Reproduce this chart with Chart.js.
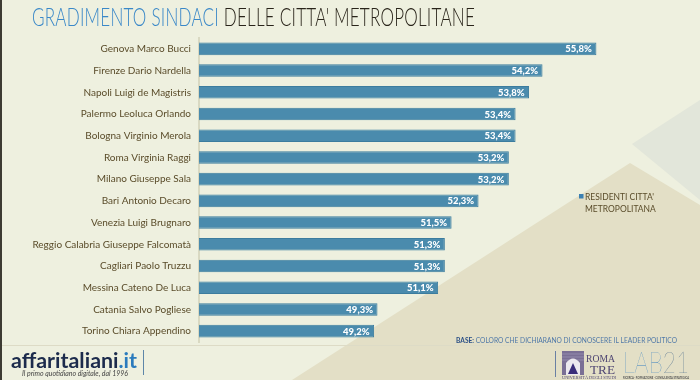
<!DOCTYPE html>
<html><head><meta charset="utf-8">
<script src="https://cdn.jsdelivr.net/npm/chart.js"></script>
<style>
html,body{margin:0;padding:0;}
body{width:700px;height:380px;overflow:hidden;position:relative;background:#eef0df;font-family:Lato,"Noto Sans",sans-serif;}
#bg{position:absolute;left:0;top:0;}
#c{position:absolute;left:0;top:0;}
.t{position:absolute;left:0;top:0;white-space:nowrap;transform-origin:0 0;line-height:1;}
</style></head>
<body>
<svg id="bg" width="700" height="380">
  <polygon points="632,144 700,100 700,200" fill="#e2e6da"/>
  <polygon points="630,163 700,205 700,380 292,380" fill="#e3dfc6"/>
  <line x1="2" y1="345.5" x2="700" y2="345.5" stroke="#dddbc6" stroke-width="1"/>
  <rect x="0" y="0" width="2" height="380" fill="#3d3b33"/>
  <line x1="143.5" y1="350" x2="143.5" y2="375" stroke="#5d86a8" stroke-width="1"/>
  <line x1="555.5" y1="351" x2="555.5" y2="377" stroke="#6a80a3" stroke-width="1"/>
  <g>
    <rect x="562" y="351" width="22" height="24" fill="#7a6f95"/>
    <line x1="562" y1="354" x2="584" y2="354" stroke="#9b92b2" stroke-width="0.8"/>
    <line x1="562" y1="357" x2="584" y2="357" stroke="#9b92b2" stroke-width="0.8"/>
    <line x1="562" y1="360" x2="584" y2="360" stroke="#9b92b2" stroke-width="0.8"/>
    <path d="M566,375 L566,363 Q573,354 580,363 L580,375 Z" fill="#ece9ef"/>
    <polygon points="573,363 578,374 568,374" fill="#3a2d7a"/>
  </g>
</svg>
<canvas id="c" width="700" height="380"></canvas>

<div class="t" id="title" style="font-size:24.5px;font-weight:300;letter-spacing:0.3px"><span style="color:#3a88c8">GRADIMENTO SINDACI</span><span style="color:#29241a"> DELLE CITTA' METROPOLITANE</span></div>
<div class="t" id="aff" style="font-size:21px;font-weight:700"><span style="color:#1c2b4c">affaritaliani</span><span style="color:#2b7bbd">.it</span></div>
<div class="t" id="tag" style="font-size:8px;font-style:italic;color:#444">Il primo quotidiano digitale, dal 1996</div>
<div class="t" id="base" style="font-size:7px;color:#4f78a8"><span style="font-weight:700;color:#2a4f86">BASE:</span> COLORO CHE DICHIARANO DI CONOSCERE IL LEADER POLITICO</div>
<div class="t" id="roma" style="font-size:11px;font-family:'Liberation Serif',serif;color:#4f4673">ROMA</div>
<div class="t" id="tre" style="font-size:12px;font-family:'Liberation Serif',serif;color:#4f4673">TRE</div>
<div class="t" id="uni" style="font-size:4px;font-family:'Liberation Serif',serif;color:#4f4673">UNIVERSITÀ DEGLI STUDI</div>
<div class="t" id="lab" style="font-size:29px;font-weight:200;color:#3c82c0">LAB<span style="color:#3b5f85">21</span></div>
<div class="t" id="labsub" style="font-size:3px;font-weight:700;color:#555">RICERCA · FORMAZIONE · CONSULENZA STRATEGICA</div>

<script>
const categories = [
  "Genova Marco Bucci",
  "Firenze Dario Nardella",
  "Napoli Luigi de Magistris",
  "Palermo Leoluca Orlando",
  "Bologna Virginio Merola",
  "Roma Virginia Raggi",
  "Milano Giuseppe Sala",
  "Bari Antonio Decaro",
  "Venezia Luigi Brugnaro",
  "Reggio Calabria Giuseppe Falcomatà",
  "Cagliari Paolo Truzzu",
  "Messina Cateno De Luca",
  "Catania Salvo Pogliese",
  "Torino Chiara Appendino"
];
const values = [55.8, 54.2, 53.8, 53.4, 53.4, 53.2, 53.2, 52.3, 51.5, 51.3, 51.3, 51.1, 49.3, 49.2];
const seriesLabel = ["RESIDENTI CITTA'", "METROPOLITANA"];
const axisMin = 44, axisMax = 58;

const valueLabels = {
  id: 'valueLabels',
  afterDatasetsDraw(chart) {
    const ctx = chart.ctx;
    const meta = chart.getDatasetMeta(0);
    ctx.save();
    ctx.font = '900 9.5px Lato, sans-serif';
    ctx.fillStyle = '#ffffff';
    ctx.textAlign = 'right';
    ctx.textBaseline = 'middle';
    meta.data.forEach((bar, i) => {
      const v = chart.data.datasets[0].data[i];
      ctx.fillText(v.toFixed(1).replace('.', ',') + '%', bar.x - 4.5, bar.y + 0.5);
    });
    ctx.restore();
  }
};

const sideLegend = {
  id: 'sideLegend',
  afterDraw(chart) {
    const ctx = chart.ctx;
    const ds = chart.data.datasets[0];
    const lines = Array.isArray(ds.label) ? ds.label : [ds.label];
    ctx.save();
    ctx.fillStyle = '#3b80b2';
    ctx.fillRect(579, 194, 4.5, 4.5);
    ctx.font = '8.5px Lato, sans-serif';
    ctx.fillStyle = '#5a4c2a';
    ctx.textAlign = 'left';
    ctx.textBaseline = 'alphabetic';
    const w0 = ctx.measureText(lines[0]).width;
    const sx = 69 / w0;
    lines.forEach((ln, i) => {
      ctx.save();
      ctx.translate(585, 200 + i * 12);
      ctx.scale(sx, 1);
      ctx.fillText(ln, 0, 0);
      ctx.restore();
    });
    ctx.restore();
  }
};

function place(id, x, baseY, w) {
  const el = document.getElementById(id);
  el.style.left = x + 'px';
  el.style.top = '0px';
  const m = document.createElement('span');
  m.style.display = 'inline-block'; m.style.width = '0'; m.style.height = '0'; m.style.verticalAlign = 'baseline';
  el.appendChild(m);
  const b = m.offsetTop;
  el.removeChild(m);
  const natW = el.getBoundingClientRect().width;
  el.style.top = (baseY - b) + 'px';
  if (w) el.style.transform = 'scaleX(' + (w / natW) + ')';
}

function build() {
  place('title', 32, 26, 443);
  place('aff', 10.5, 367.5, 126);
  place('tag', 21.5, 375.8, 106);
  place('base', 456, 342.5, 221);
  place('roma', 586, 362, 29);
  place('tre', 590, 373.5, 25);
  place('uni', 562, 379.3, 54);
  place('lab', 623, 373, 66);
  place('labsub', 623, 378.8, 66);

  new Chart(document.getElementById('c'), {
    type: 'bar',
    data: {
      labels: categories,
      datasets: [{
        label: seriesLabel,
        data: values,
        backgroundColor: '#4a8bad',
        borderColor: '#3b7c9e',
        borderWidth: 1,
        barPercentage: 0.58,
        categoryPercentage: 1
      }]
    },
    options: {
      indexAxis: 'y',
      responsive: false,
      animation: false,
      devicePixelRatio: 1,
      layout: { padding: { left: 0, top: 38, bottom: 38, right: 29.5 } },
      plugins: { legend: { display: false }, tooltip: { enabled: false } },
      scales: {
        x: { display: false, min: axisMin, max: axisMax },
        y: {
          grid: { display: false, drawTicks: false },
          border: { display: true, color: '#d9d9c2', width: 2 },
          ticks: { color: '#5a4c2a', font: { family: 'Lato', size: 10 }, padding: 8 },
          afterFit(s) { s.width = 199; }
        }
      }
    },
    plugins: [valueLabels, sideLegend]
  });
}
if (document.fonts && document.fonts.ready) document.fonts.ready.then(build); else build();
</script>
</body></html>
